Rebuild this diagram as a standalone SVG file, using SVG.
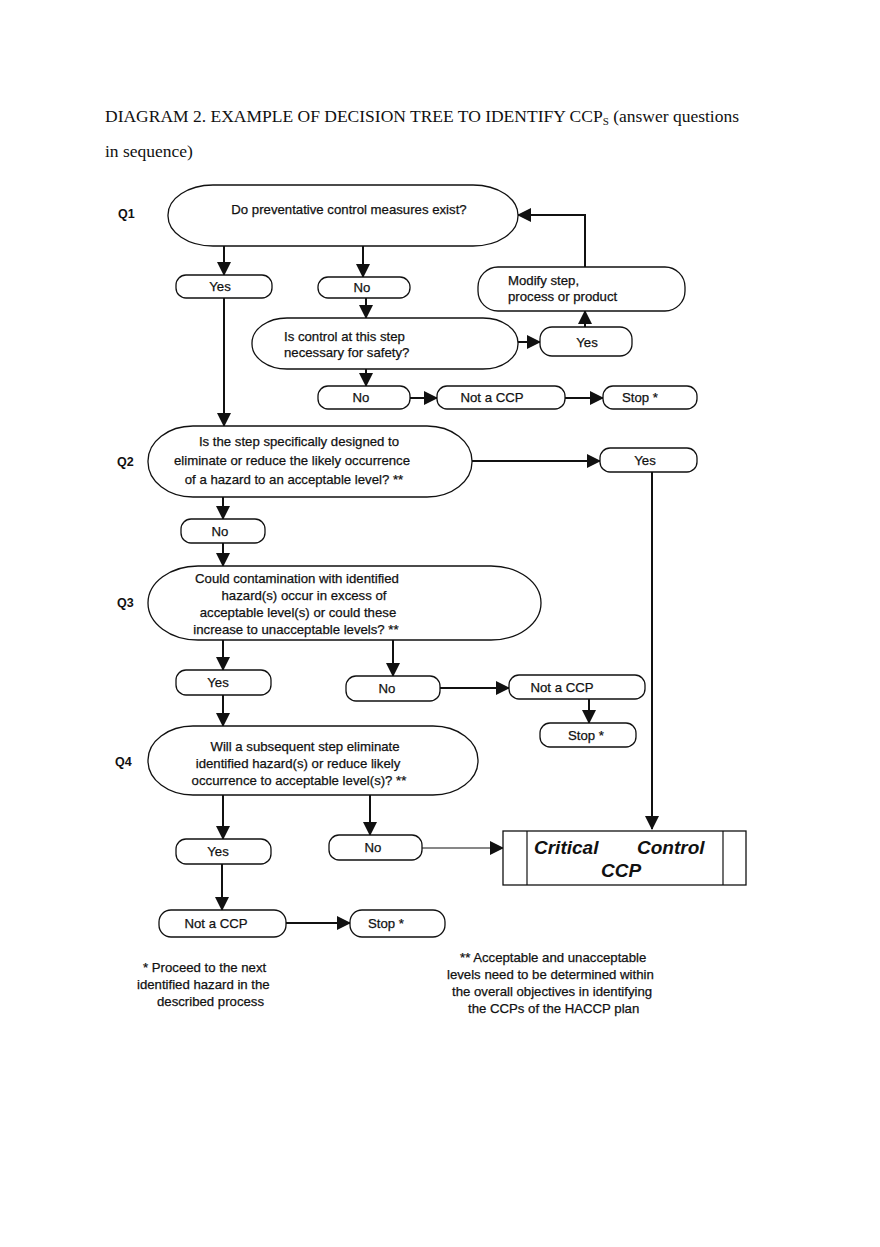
<svg xmlns="http://www.w3.org/2000/svg" width="880" height="1247" viewBox="0 0 880 1247">
<defs>
<style>
.title{font-family:"Liberation Serif",serif;font-size:17.5px;fill:#111}
.t{font-family:"Liberation Sans",Arial,sans-serif;font-size:13.2px;fill:#111;stroke:#111;stroke-width:0.25}
.m{text-anchor:middle}
.q{font-family:"Liberation Sans",Arial,sans-serif;font-size:12.5px;font-weight:bold;fill:#111}
.shape{fill:#fff;stroke:#111;stroke-width:1.3}
.c{fill:none;stroke:#111;stroke-width:2}
.thin{fill:none;stroke:#111;stroke-width:1.2}
.ccp{font-family:"Liberation Sans",Arial,sans-serif;font-size:19px;font-weight:bold;font-style:italic;fill:#111}
</style>
<marker id="ah" markerUnits="userSpaceOnUse" markerWidth="14" markerHeight="14" viewBox="0 0 14 14" refX="13" refY="7" orient="auto">
<path d="M0,0 L14,7 L0,14 Z" fill="#111"/>
</marker>
</defs>
<rect width="880" height="1247" fill="#fff"/>
<g id="title">
<text class="title" x="105" y="122">DIAGRAM 2. EXAMPLE OF DECISION TREE TO IDENTIFY CCP<tspan font-size="11" dy="3">S</tspan><tspan dy="-3"> (answer questions</tspan></text>
<text class="title" x="105" y="157">in sequence)</text>
</g>
<g id="qlabels">
<text class="q" x="118" y="218">Q1</text>
<text class="q" x="117" y="466">Q2</text>
<text class="q" x="117" y="607">Q3</text>
<text class="q" x="115" y="766">Q4</text>
</g>
<g id="connectors">
<path class="c" d="M224,246 V275" marker-end="url(#ah)"/>
<path class="c" d="M363,246 V277" marker-end="url(#ah)"/>
<path class="c" d="M366,298 V318" marker-end="url(#ah)"/>
<path class="c" d="M224,298 V426" marker-end="url(#ah)"/>
<path class="c" d="M518,342 H540" marker-end="url(#ah)"/>
<path class="c" d="M585,327 V311" marker-end="url(#ah)"/>
<path class="c" d="M585,267 V215 H518" marker-end="url(#ah)"/>
<path class="c" d="M366,369 V386" marker-end="url(#ah)"/>
<path class="c" d="M410,398 H437" marker-end="url(#ah)"/>
<path class="c" d="M565,398 H603" marker-end="url(#ah)"/>
<path class="c" d="M472,461 H600" marker-end="url(#ah)"/>
<path class="c" d="M652,472 V829" marker-end="url(#ah)"/>
<path class="c" d="M223,497 V519" marker-end="url(#ah)"/>
<path class="c" d="M223,543 V566" marker-end="url(#ah)"/>
<path class="c" d="M223,640 V670" marker-end="url(#ah)"/>
<path class="c" d="M393,640 V676" marker-end="url(#ah)"/>
<path class="c" d="M440,688 H509" marker-end="url(#ah)"/>
<path class="c" d="M589,699 V723" marker-end="url(#ah)"/>
<path class="c" d="M223,695 V726" marker-end="url(#ah)"/>
<path class="c" d="M223,795 V839" marker-end="url(#ah)"/>
<path class="c" d="M370,795 V835" marker-end="url(#ah)"/>
<path class="thin" d="M422,848 H503" marker-end="url(#ah)"/>
<path class="c" d="M222,864 V910" marker-end="url(#ah)"/>
<path class="c" d="M286,923 H350" marker-end="url(#ah)"/>
</g>
<g id="q1">
<rect class="shape" x="168" y="185" width="350" height="61" rx="45" ry="30"/>
<text class="t m" x="349" y="214">Do preventative control measures exist?</text>
</g>
<g id="yes1">
<rect class="shape" x="176" y="275" width="96" height="23" rx="10"/>
<text class="t m" x="220" y="291">Yes</text>
</g>
<g id="no1">
<rect class="shape" x="318" y="277" width="92" height="21" rx="10"/>
<text class="t m" x="362" y="292">No</text>
</g>
<g id="modify">
<rect class="shape" x="478" y="267" width="207" height="44" rx="20"/>
<text class="t" x="508" y="285">Modify step,</text>
<text class="t" x="508" y="301">process or product</text>
</g>
<g id="iscontrol">
<rect class="shape" x="252" y="318" width="266" height="51" rx="35" ry="25"/>
<text class="t" x="284" y="341">Is control at this step</text>
<text class="t" x="284" y="357">necessary for safety?</text>
</g>
<g id="yes2">
<rect class="shape" x="540" y="327" width="92" height="29" rx="12"/>
<text class="t m" x="587" y="347">Yes</text>
</g>
<g id="no2">
<rect class="shape" x="318" y="386" width="92" height="23" rx="10"/>
<text class="t m" x="361" y="402">No</text>
</g>
<g id="notccp1">
<rect class="shape" x="437" y="386" width="128" height="23" rx="10"/>
<text class="t m" x="492" y="402">Not a CCP</text>
</g>
<g id="stop1">
<rect class="shape" x="603" y="386" width="94" height="23" rx="10"/>
<text class="t m" x="640" y="402">Stop *</text>
</g>
<g id="q2">
<rect class="shape" x="148" y="426" width="324" height="71" rx="45" ry="35"/>
<text class="t m" x="299" y="446">Is the step specifically designed to</text>
<text class="t m" x="292" y="465">eliminate or reduce the likely occurrence</text>
<text class="t m" x="294" y="484">of a hazard to an acceptable level? **</text>
</g>
<g id="yes3">
<rect class="shape" x="600" y="448" width="97" height="24" rx="10"/>
<text class="t m" x="645" y="465">Yes</text>
</g>
<g id="no3">
<rect class="shape" x="181" y="519" width="84" height="24" rx="10"/>
<text class="t m" x="220" y="536">No</text>
</g>
<g id="q3">
<rect class="shape" x="148" y="566" width="393" height="74" rx="50" ry="37"/>
<text class="t m" x="297" y="583">Could contamination with identified</text>
<text class="t m" x="304" y="600">hazard(s) occur in excess of</text>
<text class="t m" x="298" y="617">acceptable level(s) or could these</text>
<text class="t m" x="296" y="634">increase to unacceptable levels? **</text>
</g>
<g id="yes4">
<rect class="shape" x="176" y="670" width="95" height="25" rx="10"/>
<text class="t m" x="218" y="687">Yes</text>
</g>
<g id="no4">
<rect class="shape" x="346" y="676" width="94" height="25" rx="10"/>
<text class="t m" x="387" y="693">No</text>
</g>
<g id="notccp2">
<rect class="shape" x="509" y="675" width="136" height="24" rx="10"/>
<text class="t m" x="562" y="692">Not a CCP</text>
</g>
<g id="stop2">
<rect class="shape" x="540" y="723" width="96" height="24" rx="10"/>
<text class="t m" x="586" y="740">Stop *</text>
</g>
<g id="q4">
<rect class="shape" x="148" y="726" width="330" height="69" rx="45" ry="34"/>
<text class="t m" x="305" y="751">Will a subsequent step eliminate</text>
<text class="t m" x="298" y="768">identified hazard(s) or reduce likely</text>
<text class="t m" x="299" y="785">occurrence to acceptable level(s)? **</text>
</g>
<g id="yes5">
<rect class="shape" x="176" y="839" width="95" height="25" rx="10"/>
<text class="t m" x="218" y="856">Yes</text>
</g>
<g id="no5">
<rect class="shape" x="329" y="835" width="93" height="25" rx="10"/>
<text class="t m" x="373" y="852">No</text>
</g>
<g id="ccp">
<rect class="shape" x="503" y="831" width="243" height="54" rx="0"/>
<line class="thin" x1="527" y1="831" x2="527" y2="885"/>
<line class="thin" x1="723" y1="831" x2="723" y2="885"/>
<text class="ccp" x="534" y="854">Critical</text>
<text class="ccp" x="637" y="854">Control</text>
<text class="ccp m" x="621" y="877">CCP</text>
</g>
<g id="notccp3">
<rect class="shape" x="159" y="910" width="127" height="27" rx="12"/>
<text class="t m" x="216" y="928">Not a CCP</text>
</g>
<g id="stop3">
<rect class="shape" x="350" y="910" width="95" height="27" rx="12"/>
<text class="t m" x="386" y="928">Stop *</text>
</g>
<g id="note1">
<text class="t" x="143" y="972">*  Proceed to the next</text>
<text class="t" x="137" y="989">identified hazard in the</text>
<text class="t" x="157" y="1006">described process</text>
</g>
<g id="note2">
<text class="t" x="460" y="962">** Acceptable and unacceptable</text>
<text class="t" x="447" y="979">levels need to be determined within</text>
<text class="t" x="452" y="996">the overall objectives in identifying</text>
<text class="t" x="468" y="1013">the CCPs of the HACCP plan</text>
</g>
</svg>
